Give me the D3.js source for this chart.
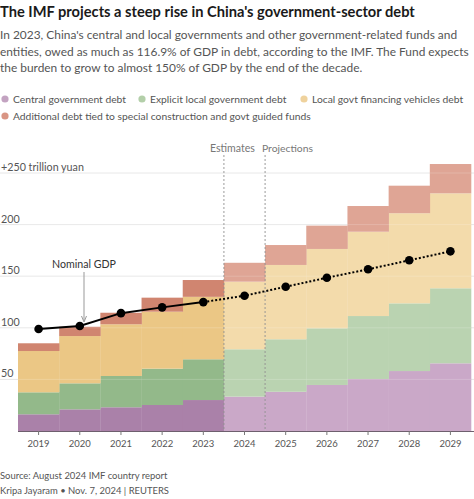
<!DOCTYPE html>
<html><head><meta charset="utf-8">
<script src="https://cdn.jsdelivr.net/npm/d3@7"></script>
<style>
html,body{margin:0;padding:0;background:#fff;}
svg{display:block;font-family:Lato, "Noto Sans", sans-serif;}
</style></head>
<body>
<svg id="c" width="474" height="499"></svg>
<script>
const years = ["2019","2020","2021","2022","2023","2024","2025","2026","2027","2028","2029"];
const central = [16.2,21,23,25.2,30,33.3,38,44.6,50.4,58.1,65.6];
const explicitLocal = [21.3,25.2,30.3,35.2,39.5,45.9,50.9,54.9,61,65.6,72.7];
const lgfv = [40,45.8,50.1,55.2,60.5,65.5,72,76.9,81.7,87.3,92];
const additional = [7.5,9,11.2,13.6,16.3,18.3,19.3,22.6,24.9,26.7,28.4];
const nominalGDP = [98.8,101.8,114.2,119.8,124.9,131.1,139.8,148.5,156.7,165.4,174.1];
const yTicks = [50,100,150,200,250];
const seriesNames = ["Central government debt","Explicit local government debt","Local govt financing vehicles debt","Additional debt tied to special construction and govt guided funds"];
const histColors = ["#aa81a9","#93b98a","#ebc785","#d08570"];
const projColors = ["#caa8c8","#bad3b1","#f3dbab","#dfa595"];
const legendColors = ["#c3a3c1","#b3cfa9","#efd29d","#d99584"];

const svg = d3.select("#c");

// measure helper: font size so that text spans target width
function fit(txt, target, weight){
  const t = svg.append("text").attr("font-size",100).attr("font-weight",weight||400).text(txt);
  const w = t.node().getComputedTextLength();
  t.remove();
  return 100*target/w;
}
const avg = a => a.reduce((s,v)=>s+v,0)/a.length;

const x = d3.scaleBand().domain(years).range([18,471]).paddingInner(0).paddingOuter(0);
const y = d3.scaleLinear().domain([0,250]).range([431,173]);

// title & subtitle
const title = "The IMF projects a steep rise in China's government-sector debt";
svg.append("text").attr("x",0).attr("y",17).attr("font-size",fit(title,415,700)).attr("font-weight",700).attr("fill","#1a1a1a").text(title);
const sub = ["In 2023, China's central and local governments and other government-related funds and",
 "entities, owed as much as 116.9% of GDP in debt, according to the IMF. The Fund expects",
 "the burden to grow to almost 150% of GDP by the end of the decade."];
const subW = [465,463,362];
const subSize = avg(sub.map((t,i)=>fit(t,subW[i])));
sub.forEach((t,i)=>svg.append("text").attr("x",0).attr("y",39+i*16.7).attr("font-size",subSize).attr("fill","#555").text(t));

// legend
const leg = [[5,99,0,118],[142,99,1,142],[304,99,2,145],[5,116,3,285]];
const legSize = avg(leg.map(d=>fit(seriesNames[d[2]],d[3])));
leg.forEach(([lx,ly,i])=>{
  svg.append("circle").attr("cx",lx).attr("cy",ly).attr("r",3.6).attr("fill",legendColors[i]);
  svg.append("text").attr("x",lx+8).attr("y",ly+4).attr("font-size",legSize).attr("fill","#555").text(seriesNames[i]);
});

// gridlines
const ySize = fit("+250 trillion yuan",83);
const g = svg.append("g");
yTicks.forEach(v=>{
  g.append("line").attr("x1",0).attr("x2",474).attr("y1",y(v)).attr("y2",y(v)).attr("stroke","#e6e6e6").attr("stroke-width",1);
  g.append("text").attr("x",1).attr("y",y(v)-2).attr("font-size",ySize).attr("fill","#555")
   .text(v===250?"+250 trillion yuan":v);
});

// stacked bars
const rows = years.map((yr,i)=>({year:yr,c:central[i],e:explicitLocal[i],l:lgfv[i],a:additional[i]}));
const stack = d3.stack().keys(["c","e","l","a"]);
const layers = stack(rows);
layers.forEach((layer,k)=>{
  svg.append("g").selectAll("rect").data(layer).join("rect")
    .attr("x",d=>x(d.data.year)).attr("width",x.bandwidth()+0.3)
    .attr("y",d=>y(d[1])).attr("height",d=>y(d[0])-y(d[1]))
    .attr("fill",(d,i)=>i<5?histColors[k]:projColors[k]);
});

// faint gridlines over bars
yTicks.forEach(v=>{
  svg.append("line").attr("x1",18).attr("x2",471).attr("y1",y(v)).attr("y2",y(v)).attr("stroke","#ffffff").attr("stroke-opacity",0.18);
});

// estimates / projections dividers
const xe = x("2024"), xp = x("2025");
[xe,xp].forEach(xx=>svg.append("line").attr("x1",xx).attr("x2",xx).attr("y1",155).attr("y2",431)
  .attr("stroke","#8f8f8f").attr("stroke-width",0.9).attr("stroke-dasharray","2,2"));
svg.append("text").attr("x",210).attr("y",152).attr("font-size",fit("Estimates",45)).attr("fill","#777").text("Estimates");
svg.append("text").attr("x",262).attr("y",152).attr("font-size",fit("Projections",51)).attr("fill","#777").text("Projections");

// x axis
const tickSize = fit("2019",22);
const xAxis = d3.axisBottom(x).tickSize(4).tickSizeOuter(0);
const ax = svg.append("g").attr("transform","translate(0,431)").call(xAxis);
ax.select(".domain").attr("stroke","#6e5f6e").attr("d","M18,0.5H474");
ax.selectAll(".tick line").attr("stroke","#777");
ax.selectAll(".tick text").attr("font-size",tickSize).attr("fill","#555").attr("font-family","Lato, sans-serif").attr("dy","0.9em");

// GDP line
const pts = years.map((yr,i)=>[x(yr)+x.bandwidth()/2, y(nominalGDP[i])]);
const line = d3.line();
svg.append("path").attr("d",line(pts.slice(0,5))).attr("fill","none").attr("stroke","#000").attr("stroke-width",2);
svg.append("path").attr("d",line(pts.slice(4))).attr("fill","none").attr("stroke","#000").attr("stroke-width",2).attr("stroke-dasharray","2,2");
svg.append("g").selectAll("circle").data(pts).join("circle").attr("cx",d=>d[0]).attr("cy",d=>d[1]).attr("r",4.3).attr("fill","#000");

// annotation
svg.append("text").attr("x",52).attr("y",268).attr("font-size",fit("Nominal GDP",64)).attr("fill","#333").text("Nominal GDP");
svg.append("line").attr("x1",84).attr("x2",84).attr("y1",272).attr("y2",320).attr("stroke","#999").attr("stroke-width",1);
svg.append("path").attr("d","M81.5,316 L84,322 L86.5,316").attr("fill","none").attr("stroke","#999").attr("stroke-width",1);

// footer
const f1 = "Source: August 2024 IMF country report", f2 = "Kripa Jayaram • Nov. 7, 2024 | REUTERS";
const fSize = avg([fit(f1,168),fit(f2,169)]);
svg.append("text").attr("x",0).attr("y",479).attr("font-size",fSize).attr("fill","#555").text(f1);
svg.append("text").attr("x",0).attr("y",494).attr("font-size",fSize).attr("fill","#555").text(f2);
</script>
</body></html>
